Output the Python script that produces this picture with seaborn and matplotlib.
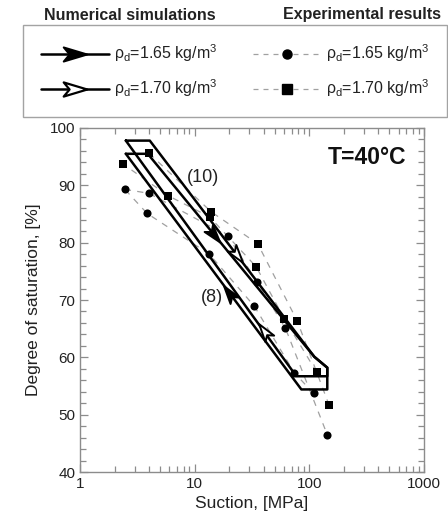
import numpy as np
import pandas as pd
import matplotlib
matplotlib.use("Agg")
import matplotlib.pyplot as plt
import seaborn as sns
from matplotlib.path import Path
from matplotlib.markers import MarkerStyle
from matplotlib.transforms import Affine2D
from matplotlib.lines import Line2D
from matplotlib.ticker import FixedLocator, FixedFormatter, MultipleLocator, NullFormatter

# ---------------- data ----------------
# Numerical simulations (hysteresis loops), suction [MPa] and degree of saturation [%]
num165_s = [2.51, 3.90, 110.5, 143.4, 143.4, 85.2, 2.51]
num165_sr = [95.5, 95.5, 60.1, 58.2, 54.4, 54.4, 95.5]
num170_s = [2.51, 4.06, 110.5, 143.4, 143.4, 77.1, 2.51]
num170_sr = [97.8, 97.8, 60.1, 58.2, 56.7, 56.7, 97.8]

# Experimental results rho_d = 1.65 (circles)
exp165_s = [2.46, 4.0, 3.85, 13.4, 19.4, 34.9, 33.2, 61.8, 74.1, 109.0, 144.0]
exp165_sr = [89.3, 88.6, 85.1, 78.0, 81.2, 73.2, 68.9, 65.1, 57.3, 53.7, 46.4]
# dashed connection order (drying and wetting paths)
exp165_dry = [0, 1, 4, 5, 7, 10]
exp165_wet = [9, 8, 6, 3, 2, 0]

# Experimental results rho_d = 1.70 (squares)
exp170_s = [2.38, 4.0, 5.86, 13.9, 13.5, 35.5, 34.4, 60.6, 78.2, 116.0, 149.0]
exp170_sr = [93.7, 95.6, 88.2, 85.4, 84.5, 79.8, 75.8, 66.7, 66.4, 57.4, 51.6]
exp170_dry = [1, 3, 5, 8, 9, 10]
exp170_wet = [9, 7, 6, 4, 2, 0]

x_ticks = [1, 10, 100, 1000]
x_ticklabels = ["1", "10", "100", "1000"]
y_ticks = [40, 50, 60, 70, 80, 90, 100]

# ---------------- style ----------------
sns.set_theme(style="ticks")
plt.rcParams["font.family"] = ["Liberation Sans", "DejaVu Sans"]
plt.rcParams["mathtext.fontset"] = "custom"
plt.rcParams["mathtext.rm"] = "Liberation Sans"
plt.rcParams["mathtext.it"] = "Liberation Sans:italic"
plt.rcParams["mathtext.bf"] = "Liberation Sans:bold"

GRAY = "#8c8c8c"
TXT = "#222222"
fig = plt.figure(figsize=(4.48, 5.28), dpi=100)
ax = fig.add_axes([80 / 448, 1 - 472 / 528, 344 / 448, 344 / 528])

ax.set_xscale("log")
ax.set_xlim(1, 1000)
ax.set_ylim(40, 100)

# arrowhead marker path (pointing +x)
arrow_path = Path([(1, 0), (-1, 0.6), (-0.5, 0), (-1, -0.6), (1, 0)],
                  [Path.MOVETO, Path.LINETO, Path.LINETO, Path.LINETO, Path.CLOSEPOLY])

# experimental dashed paths
for s, sr, paths in [(exp165_s, exp165_sr, [exp165_dry, exp165_wet]),
                     (exp170_s, exp170_sr, [exp170_dry, exp170_wet])]:
    for p in paths:
        df = pd.DataFrame({"s": [s[i] for i in p], "sr": [sr[i] for i in p]})
        sns.lineplot(data=df, x="s", y="sr", sort=False, estimator=None, ax=ax,
                     color="#a0a0a0", lw=0.9, dashes=False, linestyle=(0, (5, 5)))

# numerical loops
for s, sr in [(num165_s, num165_sr), (num170_s, num170_sr)]:
    df = pd.DataFrame({"s": s, "sr": sr})
    sns.lineplot(data=df, x="s", y="sr", sort=False, estimator=None, ax=ax,
                 color="black", lw=1.8)

# experimental markers
sns.scatterplot(x=exp165_s, y=exp165_sr, ax=ax, marker="o", s=34, color="black",
                edgecolor="black", linewidth=0, zorder=5)
sns.scatterplot(x=exp170_s, y=exp170_sr, ax=ax, marker="s", s=40, color="black",
                edgecolor="black", linewidth=0, zorder=5)


def add_arrow(s, sr, i0, i1, frac, face):
    """Arrowhead on segment i0->i1 of a polyline at fraction frac (log-x interpolation)."""
    lx0, lx1 = np.log10(s[i0]), np.log10(s[i1])
    xa = 10 ** (lx0 + frac * (lx1 - lx0))
    ya = sr[i0] + frac * (sr[i1] - sr[i0])
    p0 = ax.transData.transform((s[i0], sr[i0]))
    p1 = ax.transData.transform((s[i1], sr[i1]))
    ang = np.degrees(np.arctan2(p1[1] - p0[1], p1[0] - p0[0]))
    m = MarkerStyle(arrow_path, transform=Affine2D().rotate_deg(ang))
    ax.plot([xa], [ya], marker=m, ms=13, mfc=face, mec="black", mew=1.4,
            ls="none", zorder=6)


fig.canvas.draw()
add_arrow(num165_s, num165_sr, 1, 2, 0.40, "black")   # drying
add_arrow(num165_s, num165_sr, 5, 6, 0.41, "black")   # wetting
add_arrow(num170_s, num170_sr, 1, 2, 0.53, "white")   # drying
add_arrow(num170_s, num170_sr, 5, 6, 0.19, "white")   # wetting

# annotations
ax.text(0.358, 0.855, "(10)", transform=ax.transAxes, ha="center", va="center", fontsize=13, color=TXT)
ax.text(0.383, 0.506, "(8)", transform=ax.transAxes, ha="center", va="center", fontsize=13, color=TXT)
ax.text(0.833, 0.913, "T=40°C", transform=ax.transAxes, ha="center", va="center",
        fontsize=16.5, fontweight="bold", color="#111")

# axes formatting
ax.xaxis.set_major_locator(FixedLocator(x_ticks))
ax.xaxis.set_major_formatter(FixedFormatter(x_ticklabels))
ax.xaxis.set_minor_formatter(NullFormatter())
ax.set_yticks(y_ticks)
ax.yaxis.set_minor_locator(MultipleLocator(2))
ax.tick_params(which="both", direction="in", top=True, right=True, colors=GRAY,
               labelcolor=TXT, labelsize=11, width=0.9)
ax.tick_params(which="major", length=6)
ax.tick_params(which="minor", length=4)
for sp in ax.spines.values():
    sp.set_color(GRAY)
    sp.set_linewidth(1.0)
ax.set_xlabel("Suction, [MPa]", fontsize=12.5, color=TXT, labelpad=4)
ax.set_ylabel("Degree of saturation, [%]", fontsize=12.5, color=TXT, labelpad=6)

# legend
h1 = Line2D([], [], color="black", lw=1.8, marker=MarkerStyle(arrow_path), ms=17,
            mfc="black", mec="black", mew=1.4)
h2 = Line2D([], [], color="black", lw=1.8, marker=MarkerStyle(arrow_path), ms=17,
            mfc="white", mec="black", mew=1.6)
h3 = Line2D([], [], color="#a0a0a0", lw=0.9, linestyle=(0, (4, 4)), marker="o", ms=6.5,
            mfc="black", mec="black")
h4 = Line2D([], [], color="#a0a0a0", lw=0.9, linestyle=(0, (4, 4)), marker="s", ms=6.5,
            mfc="black", mec="black")
lab165 = "ρ$_\\mathrm{d}$=1.65 kg/m$^3$"
lab170 = "ρ$_\\mathrm{d}$=1.70 kg/m$^3$"
leg = fig.legend([h1, h2, h3, h4], [lab165, lab170, lab165, lab170], ncol=2,
                 loc="lower left", bbox_to_anchor=(23 / 448, 1 - 117 / 528, 424 / 448, 90 / 528),
                 mode="expand", borderaxespad=0, frameon=True, fancybox=False,
                 edgecolor=GRAY, fontsize=11.5, handlelength=4.3, handletextpad=0.3,
                 labelspacing=0.85, borderpad=1.1, numpoints=1, columnspacing=2.0)
leg.get_frame().set_linewidth(1.0)
for t in leg.get_texts():
    t.set_color(TXT)

fig.text(130 / 448, 1 - 15 / 528, "Numerical simulations", ha="center", va="center",
         fontsize=11.5, fontweight="bold", color=TXT)
fig.text(362 / 448, 1 - 15 / 528, "Experimental results", ha="center", va="center",
         fontsize=11.5, fontweight="bold", color=TXT)

fig.savefig("out.png", dpi=100, facecolor="white")
